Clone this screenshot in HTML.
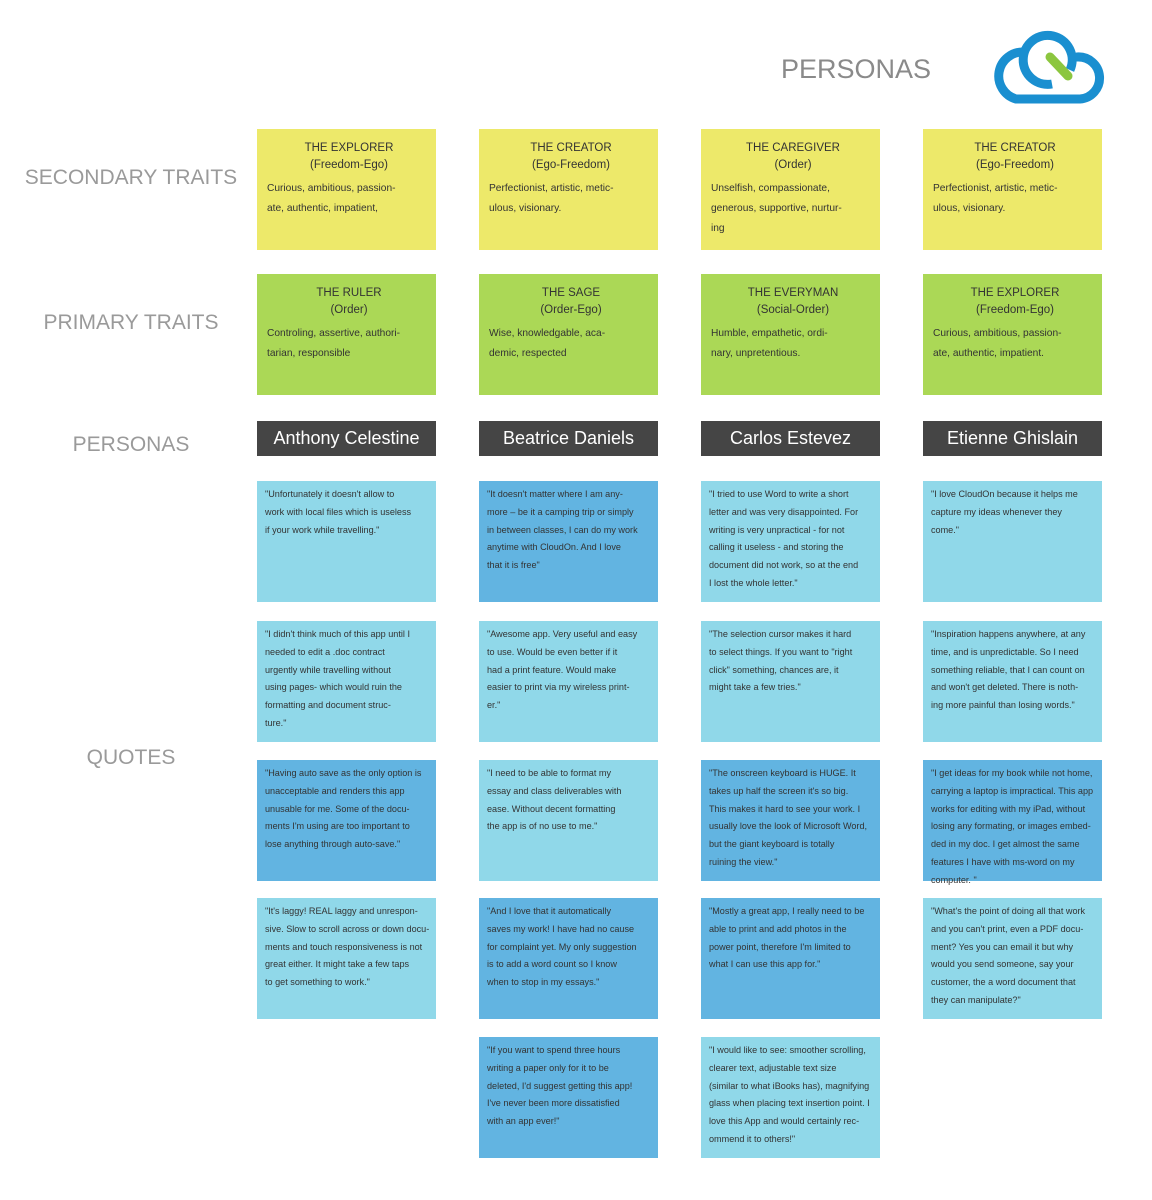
<!DOCTYPE html>
<html><head><meta charset="utf-8"><style>
body{margin:0;width:1152px;height:1200px;background:#fff;position:relative;font-family:"Liberation Sans",sans-serif;overflow:hidden}
.lbl{position:absolute;color:#9a9a9a;font-size:21px;width:260px;text-align:center;left:1px}
.b{position:absolute;width:179px;height:121px;box-sizing:border-box;font-family:"Liberation Sans",sans-serif;font-size:9.1px;color:#333;line-height:17.8px;padding:5px 3px 0 8px;white-space:nowrap;overflow:hidden}
.y{background:#ede96a}.g{background:#abd856}.l{background:#90d8e9}.d{background:#62b4e1}
.t{text-align:center;font-size:11.5px;line-height:17px;padding-top:11px}
.t p{margin:5px 0 0 2px;text-align:left;font-size:10.2px;line-height:20px}
.h{position:absolute;width:179px;height:35px;background:#454545;color:#fff;font-size:18px;text-align:center;line-height:35px}
</style></head><body>
<div style="position:absolute;left:781px;top:54px;font-size:27px;color:#8a8a8a">PERSONAS</div>
<svg style="position:absolute;left:0;top:0" width="1152" height="120">
<path d="M1024 52 A24 24 0 0 0 1016 99 H1080 A21 21 0 0 0 1077 57" fill="none" stroke="#1a8fd0" stroke-width="9" stroke-linecap="round"/>
<path d="M1070 70 A24.5 24.5 0 1 0 1052 84" fill="none" stroke="#1a8fd0" stroke-width="9"/>
<path d="M1050 57 L1068 76" stroke="#8cc63f" stroke-width="9" stroke-linecap="round"/>
</svg>
<div class="lbl" style="top:166px">SECONDARY TRAITS</div>
<div class="lbl" style="top:311px">PRIMARY TRAITS</div>
<div class="lbl" style="top:433px">PERSONAS</div>
<div class="lbl" style="top:746px">QUOTES</div>

<div class="b y t" style="left:257px;top:129px">THE EXPLORER<br>(Freedom-Ego)<p>Curious, ambitious, passion-<br>ate, authentic, impatient,</p></div>
<div class="b y t" style="left:479px;top:129px">THE CREATOR<br>(Ego-Freedom)<p>Perfectionist, artistic, metic-<br>ulous, visionary.</p></div>
<div class="b y t" style="left:701px;top:129px">THE CAREGIVER<br>(Order)<p>Unselfish, compassionate,<br>generous, supportive, nurtur-<br>ing</p></div>
<div class="b y t" style="left:923px;top:129px">THE CREATOR<br>(Ego-Freedom)<p>Perfectionist, artistic, metic-<br>ulous, visionary.</p></div>

<div class="b g t" style="left:257px;top:274px">THE RULER<br>(Order)<p>Controling, assertive, authori-<br>tarian, responsible</p></div>
<div class="b g t" style="left:479px;top:274px">THE SAGE<br>(Order-Ego)<p>Wise, knowledgable, aca-<br>demic, respected</p></div>
<div class="b g t" style="left:701px;top:274px">THE EVERYMAN<br>(Social-Order)<p>Humble, empathetic, ordi-<br>nary, unpretentious.</p></div>
<div class="b g t" style="left:923px;top:274px">THE EXPLORER<br>(Freedom-Ego)<p>Curious, ambitious, passion-<br>ate, authentic, impatient.</p></div>

<div class="h" style="left:257px;top:421px">Anthony Celestine</div>
<div class="h" style="left:479px;top:421px">Beatrice Daniels</div>
<div class="h" style="left:701px;top:421px">Carlos Estevez</div>
<div class="h" style="left:923px;top:421px">Etienne Ghislain</div>

<div class="b l" style="left:257px;top:481px">"Unfortunately it doesn't allow to<br>work with local files which is useless<br>if your work while travelling."</div>
<div class="b d" style="left:479px;top:481px">"It doesn't matter where I am any-<br>more – be it a camping trip or simply<br>in between classes, I can do my work<br>anytime with CloudOn. And I love<br>that it is free"</div>
<div class="b l" style="left:701px;top:481px">"I tried to use Word to write a short<br>letter and was very disappointed. For<br>writing is very unpractical - for not<br>calling it useless - and storing the<br>document did not work, so at the end<br>I lost the whole letter."</div>
<div class="b l" style="left:923px;top:481px">"I love CloudOn because it helps me<br>capture my ideas whenever they<br>come."</div>

<div class="b l" style="left:257px;top:621px">"I didn't think much of this app until I<br>needed to edit a .doc contract<br>urgently while travelling without<br>using pages- which would ruin the<br>formatting and document struc-<br>ture."</div>
<div class="b l" style="left:479px;top:621px">"Awesome app. Very useful and easy<br>to use. Would be even better if it<br>had a print feature. Would make<br>easier to print via my wireless print-<br>er."</div>
<div class="b l" style="left:701px;top:621px">"The selection cursor makes it hard<br>to select things. If you want to "right<br>click" something, chances are, it<br>might take a few tries."</div>
<div class="b l" style="left:923px;top:621px">"Inspiration happens anywhere, at any<br>time, and is unpredictable. So I need<br>something reliable, that I can count on<br>and won't get deleted. There is noth-<br>ing more painful than losing words."</div>

<div class="b d" style="left:257px;top:760px">"Having auto save as the only option is<br>unacceptable and renders this app<br>unusable for me. Some of the docu-<br>ments I'm using are too important to<br>lose anything through auto-save."</div>
<div class="b l" style="left:479px;top:760px">"I need to be able to format my<br>essay and class deliverables with<br>ease. Without decent formatting<br>the app is of no use to me."</div>
<div class="b d" style="left:701px;top:760px">"The onscreen keyboard is HUGE. It<br>takes up half the screen it's so big.<br>This makes it hard to see your work. I<br>usually love the look of Microsoft Word,<br>but the giant keyboard is totally<br>ruining the view."</div>
<div class="b d" style="left:923px;top:760px;overflow:visible">"I get ideas for my book while not home,<br>carrying a laptop is impractical.  This app<br>works for editing with my iPad, without<br>losing any formating, or images embed-<br>ded in my doc. I get almost the same<br>features I have with ms-word on my<br>computer. "</div>

<div class="b l" style="left:257px;top:898px">"It's laggy! REAL laggy and unrespon-<br>sive. Slow to scroll across or down docu-<br>ments and touch responsiveness is not<br>great either. It might take a few taps<br>to get something to work."</div>
<div class="b d" style="left:479px;top:898px">"And I love that it automatically<br>saves my work! I have had no cause<br>for complaint yet. My only suggestion<br>is to add a word count so I know<br>when to stop in my essays."</div>
<div class="b d" style="left:701px;top:898px">"Mostly a great app, I really need to be<br>able to print and add photos in the<br>power point, therefore I'm limited to<br>what I can use this app for."</div>
<div class="b l" style="left:923px;top:898px">"What's the point of doing all that work<br>and you can't print, even a PDF docu-<br>ment? Yes you can email it but why<br>would you send someone, say your<br>customer, the a word document that<br>they can manipulate?"</div>

<div class="b d" style="left:479px;top:1037px">"If you want to spend three hours<br>writing a paper only for it to be<br>deleted, I'd suggest getting this app!<br>I've never been more dissatisfied<br>with an app ever!"</div>
<div class="b l" style="left:701px;top:1037px">"I would like to see: smoother scrolling,<br>clearer text, adjustable text size<br>(similar to what iBooks has), magnifying<br>glass when placing text insertion point. I<br>love this App and would certainly rec-<br>ommend it to others!"</div>
</body></html>
